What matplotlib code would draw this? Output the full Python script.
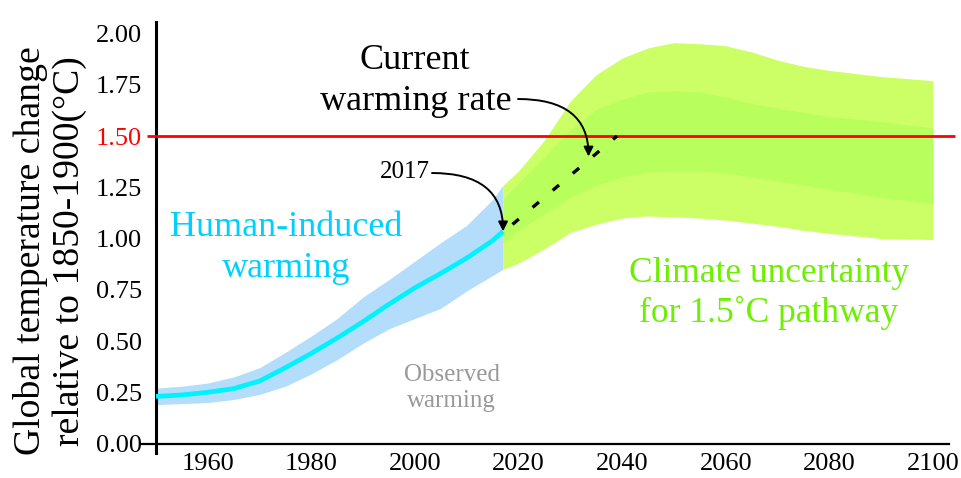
import matplotlib
matplotlib.use("Agg")
import matplotlib.pyplot as plt

plt.rcParams['font.family'] = ['Liberation Serif', 'DejaVu Serif']

# ---------------- data ----------------
obs_years = [1950, 1955, 1960, 1965, 1970, 1975, 1980, 1985, 1990, 1995, 2000, 2005, 2010, 2015, 2017]
obs_mid   = [0.23, 0.237, 0.25, 0.268, 0.305, 0.37, 0.44, 0.515, 0.595, 0.68, 0.76, 0.83, 0.905, 0.99, 1.035]
obs_upper = [0.27, 0.28, 0.295, 0.325, 0.37, 0.445, 0.525, 0.61, 0.715, 0.80, 0.89, 0.98, 1.065, 1.19, 1.26]
obs_lower = [0.19, 0.195, 0.20, 0.215, 0.24, 0.28, 0.34, 0.41, 0.49, 0.56, 0.61, 0.66, 0.745, 0.82, 0.85]

proj_years   = [2017, 2020, 2025, 2030, 2035, 2040, 2045, 2050, 2055, 2060, 2065, 2070, 2075, 2080, 2090, 2100]
proj_out_up  = [1.26, 1.33, 1.48, 1.67, 1.80, 1.88, 1.93, 1.955, 1.95, 1.94, 1.91, 1.87, 1.84, 1.82, 1.79, 1.77]
proj_in_up   = [1.19, 1.27, 1.40, 1.53, 1.63, 1.68, 1.715, 1.72, 1.715, 1.69, 1.66, 1.635, 1.615, 1.595, 1.57, 1.54]
proj_in_lo   = [0.98, 1.04, 1.12, 1.20, 1.26, 1.30, 1.325, 1.33, 1.33, 1.32, 1.30, 1.28, 1.26, 1.24, 1.20, 1.17]
proj_out_lo  = [0.85, 0.88, 0.95, 1.03, 1.07, 1.10, 1.11, 1.105, 1.10, 1.09, 1.075, 1.06, 1.04, 1.025, 1.00, 0.995]

rate_years = [2017, 2039]
rate_vals  = [1.03, 1.50]

threshold = 1.50
yticks = [0.00, 0.25, 0.50, 0.75, 1.00, 1.25, 1.50, 1.75, 2.00]
xticks = [1960, 1980, 2000, 2020, 2040, 2060, 2080, 2100]

# ---------------- figure ----------------
W, H = 961, 478
fig = plt.figure(figsize=(W / 100, H / 100), dpi=100)
ax = fig.add_axes([142 / W, (H - 453) / H, 814.3 / W, 431 / H])
ax.set_xlim(1947.3, 2104.5)
ax.set_ylim(-0.046, 2.056)

# observed band & line
ax.fill_between(obs_years, obs_lower, obs_upper, color='#b3ddfb', lw=0, zorder=1)
ax.plot(obs_years, obs_mid, color='#00f2ff', lw=3.4, solid_capstyle='butt',
        solid_joinstyle='round', zorder=3)

# projection bands
ax.fill_between(proj_years, proj_out_lo, proj_out_up, color='#ccff66', lw=0, zorder=1)
ax.fill_between(proj_years, proj_in_lo, proj_in_up, color='#b8ff5e', lw=0, zorder=2)

# threshold line
ax.hlines(threshold, 1948.3, 2104.3, color='#ff0000', lw=2.0, zorder=4)

# current warming rate (dashed)
ax.plot(rate_years, rate_vals, color='black', lw=2.4,
        linestyle=(4.2, (2.5, 5.4)), zorder=5)

# spines
for s in ['top', 'right']:
    ax.spines[s].set_visible(False)
ax.spines['left'].set_position(('data', 1950))
ax.spines['bottom'].set_position(('data', 0))
ax.spines['left'].set_linewidth(2.2)
ax.spines['bottom'].set_linewidth(1.6)
ax.spines['bottom'].set_bounds(1947.3, 2103)

ax.set_xticks(xticks)
ax.set_xticklabels([str(x) for x in xticks])
ax.set_yticks(yticks)
ax.set_yticklabels(['%.2f' % y for y in yticks])
ax.tick_params(axis='both', length=0, labelsize=19)
ax.tick_params(axis='y', pad=10)
ax.tick_params(axis='x', pad=7)
for lab, v in zip(ax.get_yticklabels(), yticks):
    if abs(v - threshold) < 1e-9:
        lab.set_color('#ff0000')


def ftext(px, py, s, **kw):
    fig.text(px / W, 1 - py / H, s, **kw)


# y label
ftext(50, 251, 'Global temperature change\nrelative to 1850-1900(°C)',
      rotation=90, ha='center', va='center', fontsize=27.2, linespacing=1.18)

# annotations text
ftext(415, 69, 'Current', ha='center', va='baseline', fontsize=26, color='black')
ftext(416, 110, 'warming rate', ha='center', va='baseline', fontsize=26, color='black')
ftext(286, 236, 'Human-induced', ha='center', va='baseline', fontsize=26, color='#00d0ff')
ftext(286, 277, 'warming', ha='center', va='baseline', fontsize=26, color='#00d0ff')
ftext(769, 282, 'Climate uncertainty', ha='center', va='baseline', fontsize=25.5, color='#6cf000')
ftext(769, 322, 'for 1.5˚C pathway', ha='center', va='baseline', fontsize=25.5, color='#6cf000')
ftext(452, 381, 'Observed', ha='center', va='baseline', fontsize=18, color='#999999')
ftext(451, 407, 'warming', ha='center', va='baseline', fontsize=18, color='#999999')
ftext(405, 178, '2017', ha='center', va='baseline', fontsize=18, color='black')

# arrows
ax.annotate('', xy=(2017, 1.035), xycoords='data',
            xytext=(432 / W, 1 - 173 / H), textcoords='figure fraction',
            arrowprops=dict(arrowstyle='-|>', connectionstyle='angle3,angleA=0,angleB=90',
                            lw=1.4, color='black', mutation_scale=14, shrinkA=0, shrinkB=0),
            zorder=6)
ax.annotate('', xy=(2033.5, 1.40), xycoords='data',
            xytext=(518 / W, 1 - 99 / H), textcoords='figure fraction',
            arrowprops=dict(arrowstyle='-|>', connectionstyle='angle3,angleA=0,angleB=90',
                            lw=1.4, color='black', mutation_scale=14, shrinkA=0, shrinkB=0),
            zorder=6)

fig.savefig('out.png', dpi=100)
